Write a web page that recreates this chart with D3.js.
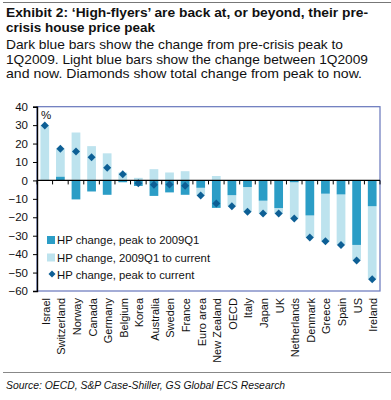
<!DOCTYPE html>
<html><head><meta charset="utf-8">
<script src="https://cdn.jsdelivr.net/npm/d3@7"></script>
<style>
html,body{margin:0;padding:0;background:#fff;}
svg{display:block;font-family:"Liberation Sans",Arial,sans-serif;}
</style></head>
<body><svg id="chart" width="391" height="400"></svg>
<script>
const countries = ["Israel","Switzerland","Norway","Canada","Germany","Belgium","Korea","Australia","Sweden","France","Euro area","New Zealand","OECD","Italy","Japan","UK","Netherlands","Denmark","Greece","Spain","US","Ireland"];
const peakTo2009Q1 = [0, 2, -10.3, -6, -7.8, -1, -3, -8.4, -6.5, -7.8, -4, -14.9, -8, -3.6, -11, -15, -1, -19, -7.2, -7.6, -35, -14];
const q1ToCurrent = [30, 15.2, 26, 18.6, 14.7, 4.3, 1.4, 6.1, 4.3, 5, -4.2, 2.4, -6, -13.4, -7, -3, -19.6, -12, -25.8, -27.4, -8.4, -39.6];
const peakToCurrent = [29.8, 17.2, 15.7, 12.6, 6.9, 3.3, -1.6, -2.3, -2.2, -2.9, -8.2, -12.5, -14, -17, -18, -18, -20.6, -31, -33, -35, -43.4, -53.6];
const yTicks = [40, 30, 20, 10, 0, -10, -20, -30, -40, -50, -60];
const legendLabels = ["HP change, peak to 2009Q1", "HP change, 2009Q1 to current", "HP change, peak to current"];

const colDark = "#2b9dc6", colLight = "#bde3ee", colDiamond = "#0d5f95", colFrame = "#6676bb";

const svg = d3.select("#chart");
// top rule
svg.append("line").attr("x1",3).attr("x2",391).attr("y1",2.5).attr("y2",2.5).attr("stroke","#777").attr("stroke-width",1);

const title = ["Exhibit 2: \u2018High-flyers\u2019 are back at, or beyond, their pre-","crisis house price peak"];
const titleW = [362, 149];
svg.selectAll("text.title").data(title).join("text").attr("class","title")
  .attr("x",6).attr("y",(d,i)=>16.5+i*15.5).attr("font-size",13).attr("font-weight","bold").attr("fill","#111")
  .attr("textLength",(d,i)=>titleW[i]).attr("lengthAdjust","spacingAndGlyphs").text(d=>d);
const sub = ["Dark blue bars show the change from pre-crisis peak to","1Q2009. Light blue bars show the change between 1Q2009","and now. Diamonds show total change from peak to now."];
const subW = [337, 362, 356];
svg.selectAll("text.sub").data(sub).join("text").attr("class","sub")
  .attr("x",6).attr("y",(d,i)=>49+i*14.7).attr("font-size",13).attr("fill","#111")
  .attr("textLength",(d,i)=>subW[i]).attr("lengthAdjust","spacingAndGlyphs").text(d=>d);

const L = 37, R = 380, T = 106.7, B = 291;
const x = d3.scaleBand().domain(countries).range([L, R]).padding(0);
const y = d3.scaleLinear().domain([-60, 40]).range([B, T]);
const bw = x.bandwidth()*0.56;

// frame
svg.append("rect").attr("x",L).attr("y",T).attr("width",R-L).attr("height",B-T).attr("fill","none").attr("stroke",colFrame).attr("stroke-width",1.2);

const data = countries.map((c,i)=>({c, d:peakTo2009Q1[i], l:q1ToCurrent[i], t:peakToCurrent[i]}));
const g = svg.append("g");
// light bars
g.selectAll("rect.light").data(data).join("rect").attr("class","light")
  .attr("x",d=>x(d.c)+x.bandwidth()/2-bw/2).attr("width",bw)
  .attr("y",d=>{const s=(Math.sign(d.l)===Math.sign(d.d))?d.d:0; return y(Math.max(s,s+d.l));})
  .attr("height",d=>Math.abs(y(0)-y(d.l)))
  .attr("fill",colLight);
// dark bars
g.selectAll("rect.dark").data(data).join("rect").attr("class","dark")
  .attr("x",d=>x(d.c)+x.bandwidth()/2-bw/2).attr("width",bw)
  .attr("y",d=>y(Math.max(0,d.d))).attr("height",d=>Math.abs(y(0)-y(d.d)))
  .attr("fill",colDark);

// zero axis
svg.append("line").attr("x1",L).attr("x2",R).attr("y1",y(0)).attr("y2",y(0)).attr("stroke","#000").attr("stroke-width",1.2);
svg.selectAll("line.xt").data(d3.range(countries.length+1)).join("line").attr("class","xt")
  .attr("x1",i=>L+i*x.step()).attr("x2",i=>L+i*x.step()).attr("y1",y(0)).attr("y2",y(0)+4).attr("stroke","#000").attr("stroke-width",1);

// diamonds
g.selectAll("path.dia").data(data).join("path").attr("class","dia")
  .attr("transform",d=>`translate(${x(d.c)+x.bandwidth()/2},${y(d.t)})`)
  .attr("d","M0,-4L4,0L0,4L-4,0Z").attr("fill",colDiamond);

// y axis
const yAxis = d3.axisLeft(y).tickValues(yTicks).tickSize(4).tickPadding(5);
const ya = svg.append("g").attr("transform",`translate(${L},0)`).call(yAxis);
ya.select(".domain").attr("stroke","#000").attr("stroke-width",1.4);
ya.selectAll(".tick line").attr("stroke","#000");
ya.selectAll("text").attr("font-size",11.5).attr("fill","#111").attr("font-family","Liberation Sans, Arial, sans-serif");

svg.append("text").attr("x",41).attr("y",119).attr("font-size",11.5).attr("fill","#111").text("%");

// x labels
svg.selectAll("text.xl").data(countries).join("text").attr("class","xl")
  .attr("transform",d=>`translate(${x(d)+x.bandwidth()/2},298) rotate(-90)`)
  .attr("dy","0.45em").attr("text-anchor","end").attr("font-size",11).attr("fill","#111").text(d=>d);

// legend
const lg = svg.append("g");
const ly = [240, 257.5, 275];
lg.append("rect").attr("x",47).attr("y",ly[0]-4).attr("width",8).attr("height",8).attr("fill",colDark);
lg.append("rect").attr("x",47).attr("y",ly[1]-4).attr("width",8).attr("height",8).attr("fill",colLight);
lg.append("path").attr("transform",`translate(52,${ly[2]-1})`).attr("d","M0,-3.5L3.5,0L0,3.5L-3.5,0Z").attr("fill",colDiamond);
lg.selectAll("text").data(legendLabels).join("text").attr("x",57).attr("y",(d,i)=>ly[i]+4).attr("font-size",11.3).attr("fill","#111").text(d=>d);

// source
svg.append("line").attr("x1",3).attr("x2",391).attr("y1",372.5).attr("y2",372.5).attr("stroke","#888").attr("stroke-width",1);
svg.append("text").attr("x",6).attr("y",389).attr("font-size",10.4).attr("font-style","italic").attr("fill","#111")
  .text("Source: OECD, S&P Case-Shiller, GS Global ECS Research");
</script></body></html>
